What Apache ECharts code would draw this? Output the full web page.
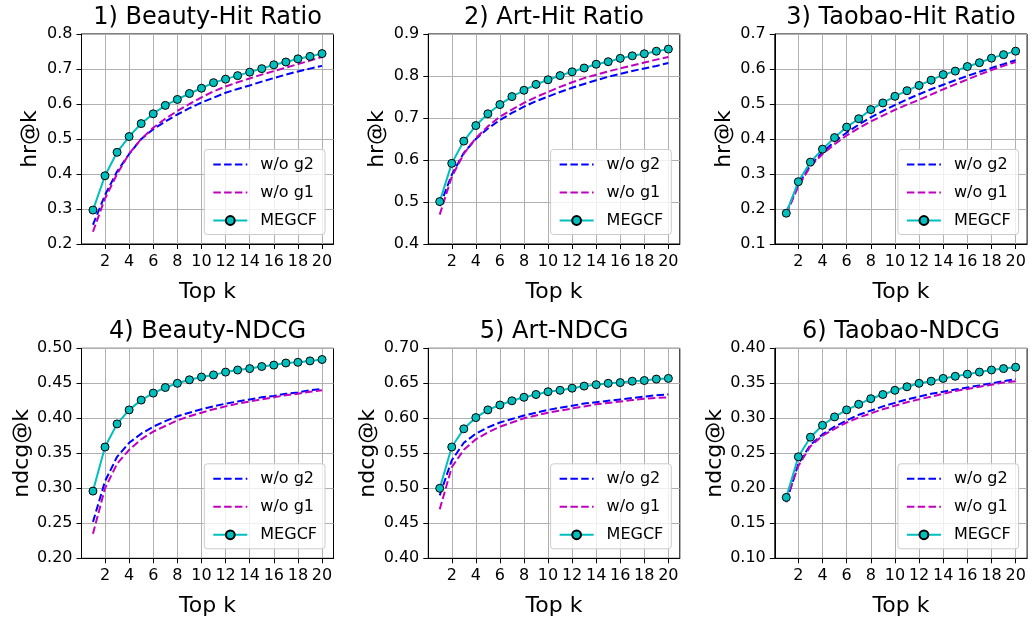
<!DOCTYPE html>
<html>
<head>
<meta charset="utf-8">
<script src="https://cdn.jsdelivr.net/npm/echarts@6/dist/echarts.min.js"></script>
<style>
html,body{margin:0;padding:0;background:#fff;}
#chart{width:1036px;height:623px;}
</style>
</head>
<body>
<div id="chart"></div>
<script>
// ---------- data ----------
const topK = [1,2,3,4,5,6,7,8,9,10,11,12,13,14,15,16,17,18,19,20];
const xTicks = [2,4,6,8,10,12,14,16,18,20];
const seriesNames = ['w/o g2', 'w/o g1', 'MEGCF'];
const titles = ['1) Beauty-Hit Ratio','2) Art-Hit Ratio','3) Taobao-Hit Ratio','4) Beauty-NDCG','5) Art-NDCG','6) Taobao-NDCG'];
const yNames = ['hr@k','hr@k','hr@k','ndcg@k','ndcg@k','ndcg@k'];
const yMin = [0.2, 0.4, 0.1, 0.20, 0.40, 0.10];
const yMax = [0.8, 0.9, 0.7, 0.50, 0.70, 0.40];
const yStep = [0.1, 0.1, 0.1, 0.05, 0.05, 0.05];
const yDecimals = [1,1,1,2,2,2];

const beautyHR_g2 = [0.255,0.340,0.407,0.457,0.500,0.528,0.550,0.570,0.588,0.604,0.618,0.632,0.643,0.653,0.664,0.674,0.684,0.693,0.701,0.709];
const beautyHR_g1 = [0.235,0.330,0.400,0.458,0.500,0.532,0.558,0.580,0.600,0.619,0.636,0.650,0.662,0.673,0.684,0.694,0.704,0.714,0.724,0.734];
const beautyHR_megcf = [0.297,0.395,0.462,0.507,0.544,0.572,0.596,0.613,0.630,0.645,0.661,0.671,0.681,0.691,0.701,0.712,0.720,0.729,0.736,0.744];

const artHR_g2 = [0.490,0.565,0.617,0.650,0.675,0.695,0.712,0.727,0.740,0.751,0.762,0.772,0.781,0.790,0.798,0.805,0.812,0.818,0.824,0.831];
const artHR_g1 = [0.470,0.560,0.615,0.652,0.680,0.703,0.720,0.736,0.750,0.762,0.774,0.785,0.795,0.803,0.811,0.818,0.825,0.832,0.839,0.845];
const artHR_megcf = [0.501,0.592,0.645,0.682,0.710,0.732,0.751,0.766,0.780,0.791,0.801,0.810,0.819,0.828,0.834,0.842,0.848,0.853,0.859,0.864];

const taobaoHR_g2 = [0.190,0.270,0.325,0.362,0.393,0.418,0.441,0.462,0.480,0.497,0.513,0.528,0.542,0.555,0.568,0.580,0.592,0.603,0.614,0.625];
const taobaoHR_g1 = [0.185,0.265,0.322,0.357,0.385,0.410,0.431,0.450,0.467,0.483,0.498,0.512,0.527,0.542,0.556,0.570,0.584,0.597,0.609,0.620];
const taobaoHR_megcf = [0.188,0.278,0.334,0.371,0.404,0.434,0.458,0.484,0.503,0.522,0.538,0.553,0.568,0.584,0.594,0.607,0.618,0.631,0.641,0.651];

const beautyNDCG_g2 = [0.252,0.310,0.345,0.365,0.378,0.388,0.396,0.403,0.408,0.413,0.417,0.421,0.424,0.427,0.430,0.432,0.435,0.437,0.440,0.442];
const beautyNDCG_g1 = [0.235,0.300,0.335,0.355,0.370,0.381,0.389,0.397,0.403,0.408,0.413,0.417,0.421,0.424,0.427,0.430,0.433,0.435,0.438,0.440];
const beautyNDCG_megcf = [0.296,0.359,0.392,0.412,0.426,0.436,0.444,0.450,0.455,0.459,0.462,0.466,0.469,0.471,0.474,0.476,0.479,0.480,0.482,0.484];

const artNDCG_g2 = [0.490,0.540,0.565,0.578,0.587,0.594,0.599,0.604,0.608,0.612,0.615,0.618,0.621,0.623,0.625,0.627,0.629,0.631,0.633,0.634];
const artNDCG_g1 = [0.470,0.530,0.555,0.570,0.580,0.588,0.594,0.600,0.604,0.608,0.611,0.614,0.617,0.620,0.622,0.624,0.626,0.628,0.629,0.630];
const artNDCG_megcf = [0.500,0.559,0.585,0.601,0.612,0.619,0.625,0.630,0.634,0.638,0.640,0.643,0.646,0.648,0.650,0.651,0.653,0.654,0.656,0.657];

const taobaoNDCG_g2 = [0.180,0.235,0.262,0.277,0.288,0.297,0.305,0.311,0.317,0.322,0.327,0.331,0.335,0.338,0.341,0.344,0.347,0.350,0.353,0.356];
const taobaoNDCG_g1 = [0.183,0.232,0.260,0.275,0.285,0.294,0.301,0.307,0.313,0.318,0.323,0.327,0.331,0.335,0.339,0.342,0.345,0.348,0.351,0.353];
const taobaoNDCG_megcf = [0.187,0.245,0.273,0.290,0.302,0.312,0.320,0.328,0.334,0.340,0.345,0.350,0.353,0.357,0.360,0.363,0.366,0.369,0.371,0.373];

const panels = [
  [beautyHR_g2, beautyHR_g1, beautyHR_megcf],
  [artHR_g2, artHR_g1, artHR_megcf],
  [taobaoHR_g2, taobaoHR_g1, taobaoHR_megcf],
  [beautyNDCG_g2, beautyNDCG_g1, beautyNDCG_megcf],
  [artNDCG_g2, artNDCG_g1, artNDCG_megcf],
  [taobaoNDCG_g2, taobaoNDCG_g1, taobaoNDCG_megcf]
];

// ---------- layout ----------
const W = 1036, H = 623;
const colLeft = [81.5, 428.3, 774.8];
const colWidth = [252, 251.5, 252.3];
const rowTop = [34, 348.3];
const rowHeight = [210, 210];
const FONT = 'DejaVu Sans';
const lineColors = ['#0000ff', '#bf00bf', '#00bfbf'];

const legendData = seriesNames.map((n, i) => i < 2
  ? {name: n, itemStyle: {color: 'transparent', borderColor: 'transparent', borderWidth: 0, opacity: 0}}
  : {name: n});

const grids = [], xAxes = [], yAxes = [], series = [], titleArr = [], legends = [];
for (let p = 0; p < 6; p++) {
  const r = Math.floor(p / 3), c = p % 3;
  const left = colLeft[c], top = rowTop[r], w = colWidth[c], h = rowHeight[r];
  grids.push({left: left, top: top, width: w, height: h, show: true,
    borderColor: '#000', borderWidth: 1, backgroundColor: 'transparent', containLabel: false});
  xAxes.push({
    type: 'value', gridIndex: p, min: 0.05, max: 20.95,
    name: 'Top k', nameLocation: 'middle', nameGap: 37,
    nameTextStyle: {fontFamily: FONT, fontSize: 22, color: '#000'},
    axisLine: {show: true, onZero: false, lineStyle: {color: '#000', width: 1}},
    axisTick: {show: true, inside: false, length: 5, customValues: xTicks, lineStyle: {color: '#000', width: 1}},
    axisLabel: {show: true, customValues: xTicks, fontFamily: FONT, fontSize: 16, color: '#000', margin: 10,
      formatter: v => String(v)},
    splitLine: {show: true, lineStyle: {color: '#b0b0b0', width: 1}}
  });
  yAxes.push({
    type: 'value', gridIndex: p, min: yMin[p], max: yMax[p], interval: yStep[p],
    name: yNames[p], nameLocation: 'middle', nameGap: 40, nameRotate: 90,
    nameTextStyle: {fontFamily: FONT, fontSize: 22, color: '#000'},
    axisLine: {show: true, onZero: false, lineStyle: {color: '#000', width: 1}},
    axisTick: {show: true, inside: false, length: 5, lineStyle: {color: '#000', width: 1}},
    axisLabel: {show: true, fontFamily: FONT, fontSize: 16, color: '#000', margin: 9,
      formatter: v => Number(v).toFixed(yDecimals[p])},
    splitLine: {show: true, lineStyle: {color: '#b0b0b0', width: 1}}
  });
  titleArr.push({
    text: titles[p], left: left + w / 2, top: r === 0 ? 6 : 320, textAlign: 'center', padding: 0,
    textStyle: {fontFamily: FONT, fontSize: 24, fontWeight: 'normal', color: '#000'}
  });
  const vals = panels[p];
  for (let s = 0; s < 3; s++) {
    const isM = s === 2;
    series.push({
      name: seriesNames[s], type: 'line', xAxisIndex: p, yAxisIndex: p,
      data: topK.map((k, i) => [k, vals[s][i]]),
      showSymbol: isM, symbol: isM ? 'circle' : 'none', symbolSize: 8,
      lineStyle: {color: lineColors[s], width: 2, type: isM ? 'solid' : [7.5, 3.3]},
      itemStyle: {color: lineColors[s], borderColor: isM ? '#000' : lineColors[s], borderWidth: isM ? 1 : 0},
      emphasis: {disabled: true}, animation: false, clip: false, z: 2 + s
    });
  }
  legends.push({
    data: legendData, orient: 'vertical',
    right: W - (left + w - 8.5), bottom: H - (top + h - 9.5),
    itemWidth: 34, itemHeight: 11, itemGap: 12,
    padding: [7, 8, 6, 8],
    backgroundColor: 'rgba(255,255,255,0.8)', borderColor: '#cccccc', borderWidth: 1, borderRadius: 3,
    textStyle: {fontFamily: FONT, fontSize: 16, color: '#000', padding: [0, 0, 0, 8]},
    selectedMode: false
  });
}

const chart = echarts.init(document.getElementById('chart'), null, {renderer: 'canvas'});
chart.setOption({
  backgroundColor: '#fff',
  animation: false,
  title: titleArr,
  grid: grids,
  xAxis: xAxes,
  yAxis: yAxes,
  legend: legends,
  series: series
});
</script>
</body>
</html>
